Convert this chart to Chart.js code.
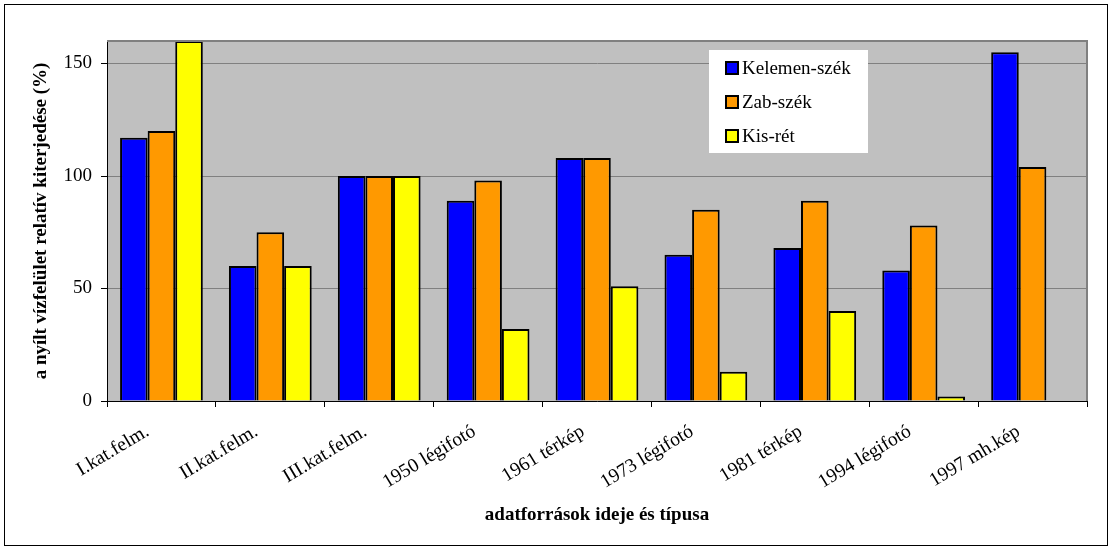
<!DOCTYPE html>
<html>
<head>
<meta charset="utf-8">
<script src="https://cdn.jsdelivr.net/npm/chart.js@4"></script>
<style>
  body { margin: 0; background: #fff; }
  #wrap { width: 1112px; height: 550px; }
</style>
</head>
<body>
<div id="wrap"><canvas id="vizChart" width="1112" height="550"></canvas></div>
<script>
// data
const categories = ['I.kat.felm.', 'II.kat.felm.', 'III.kat.felm.', '1950 légifotó', '1961 térkép',
  '1973 légifotó', '1981 térkép', '1994 légifotó', '1997 mh.kép'];
const kelemen = [117, 60, 100, 89, 108, 65, 68, 58, 155];
const zab = [120, 75, 100, 98, 108, 85, 89, 78, 104];
const kisRet = [160, 60, 100, 32, 51, 13, 40, 2, null];
const yTicks = [0, 50, 100, 150];

const serif = '"Liberation Serif", "Times New Roman", serif';

// frame, gray plot area and the boxed legend
const decor = {
  id: 'decor',
  beforeDraw(chart) {
    const ctx = chart.ctx;
    const a = chart.chartArea;
    ctx.save();
    ctx.fillStyle = '#fff';
    ctx.fillRect(0, 0, chart.width, chart.height);
    ctx.strokeStyle = '#000';
    ctx.lineWidth = 1;
    ctx.strokeRect(4.5, 4.5, 1103, 541);
    ctx.fillStyle = '#c0c0c0';
    ctx.fillRect(a.left, a.top, a.right - a.left, a.bottom - a.top);
    ctx.restore();
  },
  afterDatasetsDraw(chart) {
    const ctx = chart.ctx;
    const a = chart.chartArea;
    ctx.save();
    ctx.strokeStyle = '#808080';
    ctx.lineWidth = 2;
    ctx.beginPath();
    ctx.moveTo(a.left, a.top);
    ctx.lineTo(a.right, a.top);
    ctx.lineTo(a.right, a.bottom);
    ctx.stroke();
    // legend
    const lx = 709, ly = 50;
    ctx.fillStyle = '#fff';
    ctx.fillRect(lx, ly, 159, 103);
    ctx.font = 'normal 19px ' + serif;
    ctx.textBaseline = 'middle';
    chart.data.datasets.forEach((ds, i) => {
      const cy = ly + 19 + i * 34;
      ctx.fillStyle = ds.backgroundColor;
      ctx.fillRect(lx + 17, cy - 7, 12, 12);
      ctx.strokeStyle = '#000';
      ctx.lineWidth = 2;
      ctx.strokeRect(lx + 17, cy - 7, 12, 12);
      ctx.fillStyle = '#000';
      ctx.fillText(ds.label, lx + 33, cy);
    });
    ctx.restore();
  }
};

const vizChart = new Chart(document.getElementById('vizChart'), {
  type: 'bar',
  data: {
    labels: categories,
    datasets: [
      { label: 'Kelemen-szék', data: kelemen, backgroundColor: '#0000ff' },
      { label: 'Zab-szék', data: zab, backgroundColor: '#ff9900' },
      { label: 'Kis-rét', data: kisRet, backgroundColor: '#ffff00' }
    ].map(d => Object.assign(d, { borderColor: '#000', borderWidth: 2, borderSkipped: 'bottom' }))
  },
  options: {
    responsive: false,
    animation: false,
    layout: { padding: { left: 5, right: 25, top: 41, bottom: 5 } },
    plugins: {
      legend: { display: false },
      tooltip: { enabled: false }
    },
    datasets: {
      bar: { categoryPercentage: 0.76, barPercentage: 1 }
    },
    scales: {
      x: {
        grid: { offset: true, drawOnChartArea: false, tickLength: 6, tickColor: '#000' },
        border: { color: '#000', width: 1 },
        ticks: {
          color: '#000', font: { family: serif, size: 19.5 },
          minRotation: 31, maxRotation: 31, padding: 13, labelOffset: -14
        },
        title: {
          display: true, text: 'adatforrások ideje és típusa', color: '#000',
          font: { family: serif, size: 19, weight: 'bold' }, padding: { top: 0, bottom: 19 }
        },
        afterFit(scale) { scale.height = 144; }
      },
      y: {
        min: 0,
        max: 160,
        grid: { color: '#808080', lineWidth: 1, tickLength: 6, tickColor: '#000' },
        border: { color: '#000', width: 1 },
        afterBuildTicks(scale) { scale.ticks = yTicks.map(v => ({ value: v })); },
        ticks: { color: '#000', font: { family: serif, size: 19 }, padding: 9 },
        title: {
          display: true, text: 'a nyílt vízfelület relatív kiterjedése (%)', color: '#000',
          font: { family: serif, size: 19, weight: 'bold' }, padding: { top: 25, bottom: 0 }
        },
        afterFit(scale) { scale.width = 102; }
      }
    }
  },
  plugins: [decor]
});
</script>
</body>
</html>
